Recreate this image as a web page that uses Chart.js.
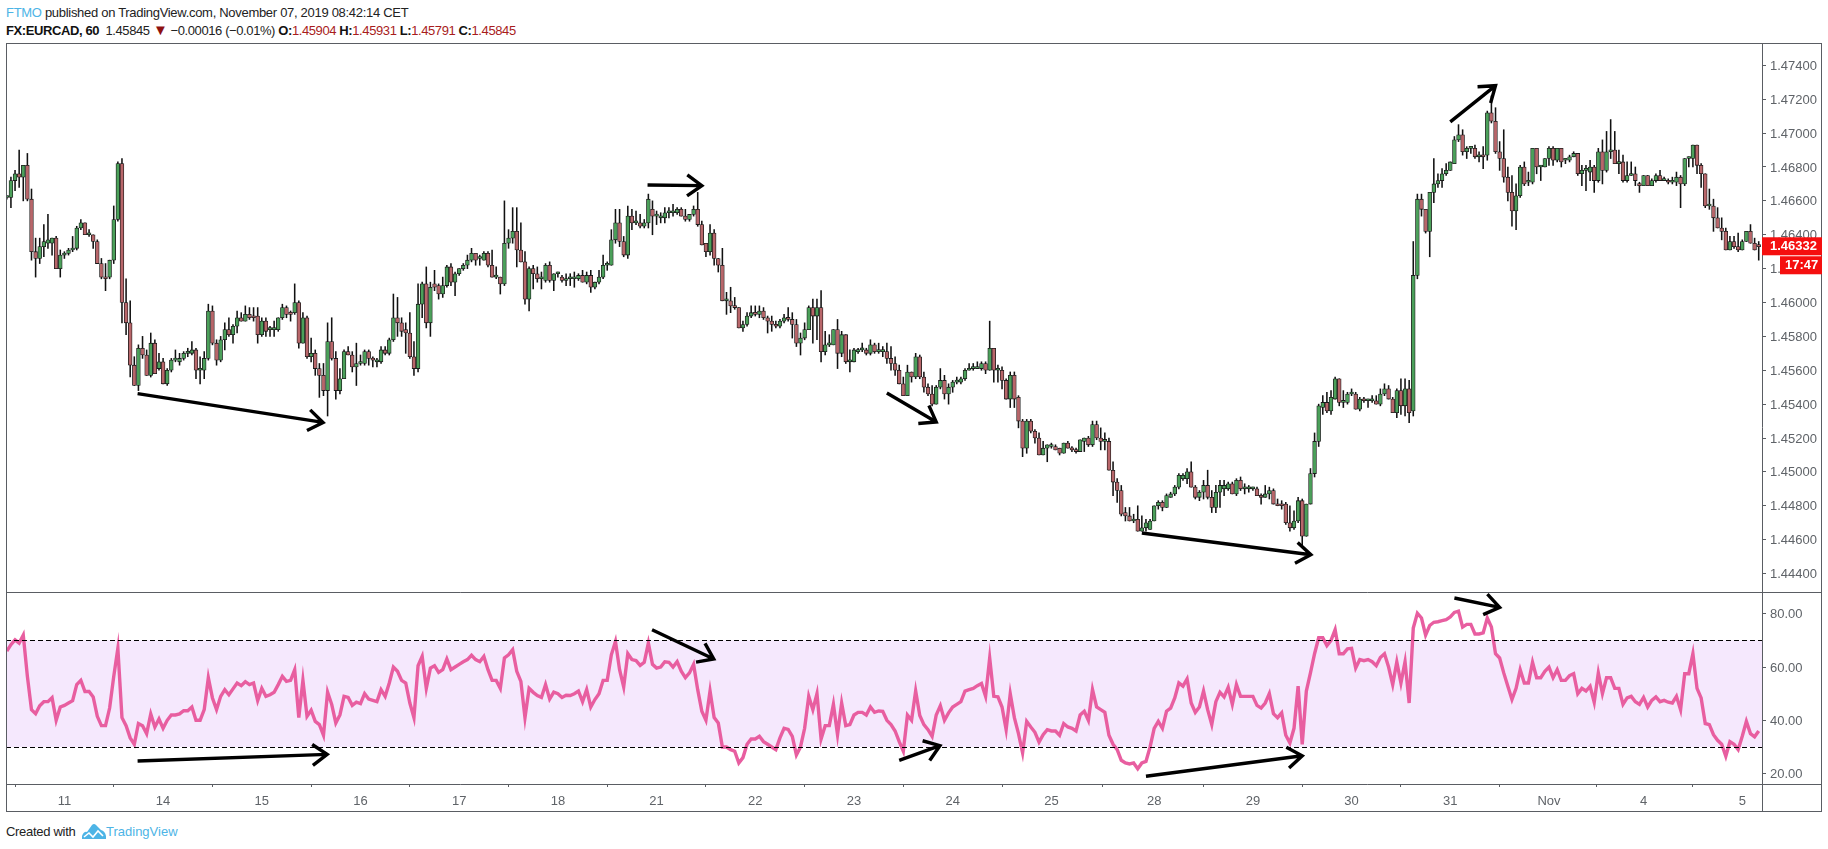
<!DOCTYPE html>
<html><head><meta charset="utf-8"><title>FX:EURCAD, 60</title>
<script src="https://cdn.jsdelivr.net/npm/chart.js@4/dist/chart.umd.js"></script>
<style>
html,body{margin:0;padding:0;background:#fff;width:1828px;height:849px;overflow:hidden}
canvas{position:absolute;left:0;top:0}
.t{position:absolute;white-space:nowrap;font-family:"Liberation Sans",sans-serif;font-size:13px;line-height:16px;color:#222}
.blue{color:#4db4e6}.red{color:#a81c1c}b{font-weight:bold;color:#111}
</style></head><body>
<div class="t" style="left:6px;top:5px;letter-spacing:-0.3px"><span class="blue">FTMO</span> published on TradingView.com, November 07, 2019 08:42:14 CET</div>
<div class="t" style="left:6px;top:22px;letter-spacing:-0.4px"><b>FX:EURCAD, 60</b>&nbsp; 1.45845 <span style="color:#8e1010;font-size:15px">▼</span> −0.00016 (−0.01%) <b>O:</b><span class="red">1.45904</span> <b>H:</b><span class="red">1.45931</span> <b>L:</b><span class="red">1.45791</span> <b>C:</b><span class="red">1.45845</span></div>
<div class="t" style="left:6px;top:824px;letter-spacing:-0.3px">Created with</div>
<svg style="position:absolute;left:82px;top:822px" width="24" height="19" viewBox="0 0 24 19"><path d="M0 17 L0 14 Q2 9 5 10 L10 3 Q12 1 14 3 L19 8 Q23 9 24 14 L24 17 Z" fill="#4db4e6"/><path d="M2 15 L7 11 L11 15 L16 9 L21 14" fill="none" stroke="#fff" stroke-width="1.6"/></svg>
<div class="t blue" style="left:106px;top:824px">TradingView</div>
<canvas id="c" width="1828" height="849"></canvas>
<script>
const opens=[1.4662,1.4662,1.4672,1.4676,1.4674,1.4681,1.4661,1.4630,1.4626,1.4633,
1.4635,1.4635,1.4638,1.4620,1.4628,1.4629,1.4631,1.4632,1.4644,1.4647,
1.4640,1.4640,1.4636,1.4623,1.4615,1.4615,1.4625,1.4649,1.4682,1.4600,
1.4588,1.4563,1.4551,1.4573,1.4569,1.4557,1.4576,1.4561,1.4565,1.4552,
1.4560,1.4566,1.4565,1.4567,1.4570,1.4570,1.4572,1.4560,1.4560,1.4567,
1.4595,1.4576,1.4566,1.4578,1.4584,1.4581,1.4586,1.4591,1.4589,1.4593,
1.4592,1.4592,1.4581,1.4589,1.4584,1.4584,1.4584,1.4591,1.4597,1.4594,
1.4594,1.4600,1.4576,1.4591,1.4568,1.4570,1.4561,1.4557,1.4548,1.4577,
1.4567,1.4548,1.4555,1.4571,1.4569,1.4562,1.4564,1.4564,1.4571,1.4567,
1.4565,1.4565,1.4572,1.4570,1.4578,1.4591,1.4588,1.4584,1.4582,1.4568,
1.4561,1.4599,1.4611,1.4588,1.4611,1.4610,1.4605,1.4610,1.4621,1.4612,
1.4617,1.4620,1.4622,1.4625,1.4629,1.4626,1.4625,1.4629,1.4622,1.4615,
1.4615,1.4611,1.4635,1.4638,1.4642,1.4631,1.4624,1.4602,1.4620,1.4617,
1.4614,1.4613,1.4622,1.4613,1.4617,1.4615,1.4613,1.4614,1.4614,1.4614,
1.4616,1.4612,1.4616,1.4609,1.4612,1.4615,1.4622,1.4622,1.4637,1.4647,
1.4636,1.4628,1.4651,1.4647,1.4647,1.4645,1.4647,1.4655,1.4651,1.4650,
1.4650,1.4653,1.4653,1.4653,1.4655,1.4651,1.4649,1.4652,1.4655,1.4646,
1.4635,1.4630,1.4641,1.4626,1.4622,1.4601,1.4601,1.4598,1.4597,1.4585,
1.4587,1.4592,1.4594,1.4593,1.4595,1.4591,1.4589,1.4587,1.4586,1.4589,
1.4591,1.4590,1.4587,1.4576,1.4579,1.4584,1.4597,1.4592,1.4597,1.4571,
1.4575,1.4575,1.4584,1.4570,1.4581,1.4565,1.4565,1.4571,1.4572,1.4572,
1.4570,1.4575,1.4571,1.4571,1.4571,1.4567,1.4564,1.4560,1.4552,1.4545,
1.4559,1.4556,1.4568,1.4556,1.4550,1.4546,1.4540,1.4550,1.4554,1.4546,
1.4550,1.4553,1.4553,1.4555,1.4560,1.4561,1.4561,1.4561,1.4564,1.4560,
1.4573,1.4560,1.4560,1.4554,1.4543,1.4557,1.4544,1.4530,1.4514,1.4530,
1.4524,1.4520,1.4510,1.4514,1.4515,1.4515,1.4514,1.4511,1.4517,1.4514,
1.4513,1.4512,1.4518,1.4520,1.4516,1.4528,1.4520,1.4518,1.4518,1.4501,
1.4494,1.4489,1.4476,1.4474,1.4471,1.4472,1.4465,1.4467,1.4466,1.4471,
1.4480,1.4482,1.4479,1.4485,1.4487,1.4491,1.4496,1.4496,1.4500,1.4491,
1.4485,1.4488,1.4492,1.4485,1.4479,1.4488,1.4490,1.4490,1.4493,1.4487,
1.4495,1.4490,1.4490,1.4490,1.4490,1.4486,1.4485,1.4487,1.4489,1.4481,
1.4481,1.4481,1.4470,1.4467,1.4471,1.4483,1.4462,1.4481,1.4499,1.4518,
1.4538,1.4541,1.4536,1.4543,1.4555,1.4541,1.4541,1.4546,1.4546,1.4537,
1.4543,1.4542,1.4542,1.4542,1.4540,1.4546,1.4549,1.4543,1.4535,1.4548,
1.4539,1.4549,1.4536,1.4616,1.4661,1.4655,1.4642,1.4665,1.4670,1.4672,
1.4676,1.4678,1.4682,1.4696,1.4699,1.4689,1.4691,1.4691,1.4686,1.4687,
1.4687,1.4712,1.4707,1.4689,1.4685,1.4674,1.4665,1.4654,1.4663,1.4680,
1.4671,1.4671,1.4691,1.4680,1.4680,1.4685,1.4691,1.4684,1.4691,1.4684,
1.4684,1.4686,1.4688,1.4676,1.4678,1.4677,1.4680,1.4672,1.4689,1.4678,
1.4689,1.4690,1.4682,1.4683,1.4672,1.4675,1.4676,1.4670,1.4669,1.4675,
1.4669,1.4672,1.4675,1.4672,1.4672,1.4671,1.4671,1.4674,1.4670,1.4685,
1.4685,1.4693,1.4681,1.4676,1.4657,1.4657,1.4650,1.4644,1.4642,1.4631,
1.4636,1.4633,1.4631,1.4636,1.4642,1.4635,1.4634];
const closes=[1.4662,1.4672,1.4676,1.4674,1.4681,1.4661,1.4630,1.4626,1.4633,1.4636,
1.4637,1.4638,1.4620,1.4628,1.4629,1.4631,1.4632,1.4644,1.4647,1.4640,
1.4640,1.4636,1.4623,1.4615,1.4614,1.4625,1.4649,1.4682,1.4600,1.4588,
1.4563,1.4551,1.4573,1.4569,1.4557,1.4576,1.4558,1.4565,1.4552,1.4560,
1.4566,1.4566,1.4567,1.4570,1.4570,1.4572,1.4560,1.4560,1.4567,1.4595,
1.4576,1.4566,1.4578,1.4584,1.4581,1.4586,1.4591,1.4589,1.4593,1.4591,
1.4591,1.4581,1.4589,1.4583,1.4584,1.4584,1.4591,1.4597,1.4593,1.4593,
1.4600,1.4576,1.4591,1.4568,1.4570,1.4561,1.4557,1.4548,1.4577,1.4567,
1.4548,1.4555,1.4571,1.4569,1.4562,1.4564,1.4564,1.4571,1.4567,1.4566,
1.4566,1.4572,1.4570,1.4578,1.4591,1.4588,1.4583,1.4582,1.4568,1.4561,
1.4599,1.4611,1.4588,1.4609,1.4609,1.4605,1.4610,1.4621,1.4612,1.4617,
1.4620,1.4622,1.4625,1.4629,1.4625,1.4626,1.4629,1.4622,1.4615,1.4615,
1.4611,1.4635,1.4638,1.4642,1.4631,1.4624,1.4602,1.4620,1.4617,1.4614,
1.4614,1.4622,1.4613,1.4617,1.4618,1.4613,1.4614,1.4615,1.4614,1.4616,
1.4612,1.4616,1.4609,1.4612,1.4615,1.4622,1.4622,1.4637,1.4647,1.4636,
1.4628,1.4651,1.4647,1.4647,1.4645,1.4647,1.4661,1.4651,1.4651,1.4650,
1.4653,1.4654,1.4654,1.4655,1.4651,1.4649,1.4652,1.4655,1.4646,1.4634,
1.4630,1.4641,1.4626,1.4622,1.4601,1.4601,1.4598,1.4597,1.4585,1.4587,
1.4592,1.4594,1.4593,1.4595,1.4591,1.4589,1.4587,1.4586,1.4589,1.4591,
1.4590,1.4587,1.4576,1.4579,1.4584,1.4597,1.4592,1.4597,1.4571,1.4575,
1.4575,1.4584,1.4570,1.4581,1.4565,1.4565,1.4572,1.4572,1.4572,1.4570,
1.4575,1.4571,1.4571,1.4571,1.4567,1.4564,1.4560,1.4552,1.4545,1.4559,
1.4556,1.4568,1.4556,1.4550,1.4546,1.4540,1.4550,1.4554,1.4546,1.4550,
1.4553,1.4553,1.4555,1.4560,1.4561,1.4561,1.4562,1.4564,1.4560,1.4573,
1.4560,1.4560,1.4554,1.4543,1.4557,1.4543,1.4530,1.4514,1.4530,1.4524,
1.4520,1.4510,1.4514,1.4516,1.4515,1.4513,1.4511,1.4517,1.4514,1.4513,
1.4512,1.4519,1.4520,1.4516,1.4528,1.4520,1.4518,1.4518,1.4501,1.4494,
1.4489,1.4475,1.4474,1.4471,1.4471,1.4465,1.4467,1.4470,1.4471,1.4480,
1.4482,1.4479,1.4486,1.4487,1.4491,1.4498,1.4498,1.4500,1.4491,1.4485,
1.4488,1.4492,1.4485,1.4479,1.4488,1.4492,1.4492,1.4493,1.4487,1.4495,
1.4490,1.4490,1.4490,1.4490,1.4486,1.4485,1.4487,1.4489,1.4481,1.4480,
1.4480,1.4470,1.4467,1.4471,1.4483,1.4462,1.4481,1.4499,1.4518,1.4539,
1.4541,1.4536,1.4544,1.4555,1.4541,1.4541,1.4546,1.4546,1.4537,1.4543,
1.4542,1.4542,1.4542,1.4540,1.4546,1.4549,1.4543,1.4535,1.4548,1.4539,
1.4549,1.4535,1.4616,1.4661,1.4655,1.4642,1.4665,1.4670,1.4672,1.4676,
1.4678,1.4683,1.4696,1.4699,1.4689,1.4691,1.4691,1.4686,1.4686,1.4686,
1.4712,1.4707,1.4689,1.4685,1.4674,1.4665,1.4654,1.4663,1.4680,1.4670,
1.4671,1.4691,1.4680,1.4680,1.4685,1.4691,1.4684,1.4691,1.4683,1.4684,
1.4686,1.4688,1.4676,1.4678,1.4678,1.4680,1.4672,1.4689,1.4678,1.4689,
1.4690,1.4682,1.4683,1.4672,1.4675,1.4676,1.4672,1.4669,1.4675,1.4669,
1.4672,1.4675,1.4672,1.4672,1.4671,1.4671,1.4674,1.4670,1.4685,1.4685,
1.4693,1.4681,1.4676,1.4657,1.4657,1.4650,1.4644,1.4642,1.4631,1.4636,
1.4633,1.4631,1.4636,1.4642,1.4635,1.4631,1.4633];
const highs=[1.4663,1.4674,1.4678,1.4690,1.4681,1.4688,1.4667,1.4638,1.4638,1.4646,
1.4652,1.4638,1.4639,1.4631,1.4630,1.4632,1.4639,1.4645,1.4649,1.4647,
1.4643,1.4640,1.4637,1.4626,1.4623,1.4625,1.4657,1.4683,1.4685,1.4614,
1.4601,1.4568,1.4575,1.4580,1.4572,1.4582,1.4578,1.4570,1.4567,1.4561,
1.4567,1.4572,1.4570,1.4571,1.4573,1.4577,1.4573,1.4568,1.4571,1.4599,
1.4598,1.4578,1.4580,1.4588,1.4591,1.4587,1.4595,1.4594,1.4598,1.4597,
1.4597,1.4597,1.4591,1.4591,1.4586,1.4589,1.4591,1.4599,1.4598,1.4595,
1.4611,1.4601,1.4594,1.4592,1.4579,1.4572,1.4564,1.4564,1.4588,1.4591,
1.4571,1.4561,1.4572,1.4574,1.4571,1.4576,1.4569,1.4572,1.4572,1.4568,
1.4567,1.4574,1.4574,1.4579,1.4605,1.4603,1.4591,1.4588,1.4594,1.4577,
1.4611,1.4612,1.4621,1.4612,1.4619,1.4611,1.4615,1.4622,1.4623,1.4618,
1.4620,1.4623,1.4628,1.4632,1.4629,1.4628,1.4630,1.4630,1.4631,1.4621,
1.4615,1.4660,1.4643,1.4656,1.4656,1.4647,1.4630,1.4621,1.4622,1.4621,
1.4618,1.4623,1.4624,1.4617,1.4618,1.4616,1.4617,1.4617,1.4618,1.4617,
1.4619,1.4618,1.4619,1.4612,1.4619,1.4628,1.4624,1.4643,1.4655,1.4655,
1.4639,1.4657,1.4655,1.4654,1.4652,1.4649,1.4664,1.4660,1.4654,1.4653,
1.4656,1.4656,1.4658,1.4656,1.4656,1.4655,1.4652,1.4657,1.4665,1.4648,
1.4635,1.4646,1.4643,1.4626,1.4632,1.4606,1.4609,1.4603,1.4597,1.4589,
1.4594,1.4598,1.4598,1.4598,1.4597,1.4592,1.4592,1.4589,1.4590,1.4593,
1.4597,1.4594,1.4590,1.4582,1.4588,1.4598,1.4602,1.4602,1.4607,1.4583,
1.4581,1.4584,1.4590,1.4583,1.4581,1.4572,1.4573,1.4573,1.4576,1.4573,
1.4578,1.4576,1.4576,1.4574,1.4576,1.4574,1.4568,1.4563,1.4556,1.4563,
1.4559,1.4570,1.4569,1.4559,1.4552,1.4551,1.4551,1.4561,1.4557,1.4552,
1.4554,1.4556,1.4556,1.4561,1.4564,1.4564,1.4565,1.4565,1.4565,1.4589,
1.4573,1.4563,1.4562,1.4555,1.4559,1.4559,1.4545,1.4531,1.4531,1.4531,
1.4525,1.4523,1.4518,1.4516,1.4517,1.4516,1.4514,1.4517,1.4518,1.4515,
1.4514,1.4519,1.4520,1.4521,1.4530,1.4530,1.4526,1.4523,1.4520,1.4506,
1.4496,1.4492,1.4479,1.4479,1.4475,1.4480,1.4474,1.4472,1.4472,1.4480,
1.4483,1.4483,1.4487,1.4488,1.4492,1.4499,1.4499,1.4502,1.4506,1.4492,
1.4489,1.4495,1.4501,1.4489,1.4492,1.4495,1.4495,1.4494,1.4494,1.4496,
1.4497,1.4493,1.4492,1.4491,1.4491,1.4487,1.4492,1.4491,1.4490,1.4484,
1.4483,1.4482,1.4480,1.4477,1.4485,1.4484,1.4481,1.4502,1.4523,1.4540,
1.4545,1.4547,1.4548,1.4556,1.4555,1.4548,1.4547,1.4549,1.4547,1.4544,
1.4544,1.4543,1.4545,1.4545,1.4549,1.4552,1.4551,1.4544,1.4549,1.4555,
1.4555,1.4554,1.4636,1.4664,1.4664,1.4655,1.4665,1.4685,1.4676,1.4679,
1.4682,1.4683,1.4698,1.4705,1.4702,1.4692,1.4692,1.4693,1.4689,1.4692,
1.4713,1.4722,1.4715,1.4695,1.4702,1.4680,1.4675,1.4670,1.4681,1.4683,
1.4677,1.4691,1.4691,1.4681,1.4685,1.4692,1.4692,1.4691,1.4691,1.4685,
1.4687,1.4689,1.4688,1.4681,1.4681,1.4684,1.4681,1.4691,1.4696,1.4701,
1.4708,1.4701,1.4690,1.4687,1.4683,1.4683,1.4680,1.4671,1.4675,1.4675,
1.4673,1.4676,1.4678,1.4674,1.4673,1.4674,1.4677,1.4675,1.4685,1.4686,
1.4693,1.4693,1.4682,1.4676,1.4667,1.4661,1.4656,1.4650,1.4644,1.4639,
1.4639,1.4641,1.4637,1.4642,1.4646,1.4638,1.4636];
const lows=[1.4661,1.4656,1.4666,1.4668,1.4660,1.4660,1.4625,1.4615,1.4623,1.4627,
1.4632,1.4628,1.4620,1.4615,1.4626,1.4628,1.4630,1.4631,1.4643,1.4640,
1.4639,1.4632,1.4623,1.4614,1.4607,1.4614,1.4623,1.4648,1.4588,1.4581,
1.4556,1.4551,1.4548,1.4567,1.4557,1.4556,1.4558,1.4560,1.4552,1.4551,
1.4559,1.4565,1.4563,1.4566,1.4568,1.4569,1.4555,1.4552,1.4555,1.4566,
1.4575,1.4563,1.4565,1.4572,1.4580,1.4576,1.4582,1.4589,1.4589,1.4590,
1.4589,1.4576,1.4580,1.4580,1.4580,1.4580,1.4583,1.4590,1.4591,1.4589,
1.4593,1.4573,1.4576,1.4567,1.4565,1.4557,1.4544,1.4545,1.4533,1.4566,
1.4543,1.4546,1.4555,1.4569,1.4559,1.4551,1.4563,1.4563,1.4563,1.4562,
1.4562,1.4564,1.4569,1.4569,1.4577,1.4580,1.4580,1.4570,1.4567,1.4557,
1.4559,1.4591,1.4585,1.4580,1.4607,1.4602,1.4603,1.4609,1.4610,1.4604,
1.4616,1.4619,1.4620,1.4624,1.4622,1.4622,1.4625,1.4621,1.4615,1.4614,
1.4605,1.4610,1.4632,1.4635,1.4621,1.4624,1.4599,1.4595,1.4608,1.4612,
1.4608,1.4612,1.4612,1.4607,1.4615,1.4612,1.4610,1.4610,1.4609,1.4613,
1.4612,1.4611,1.4606,1.4608,1.4611,1.4614,1.4619,1.4622,1.4635,1.4633,
1.4627,1.4626,1.4643,1.4646,1.4644,1.4644,1.4644,1.4640,1.4646,1.4647,
1.4647,1.4650,1.4651,1.4652,1.4651,1.4648,1.4648,1.4651,1.4645,1.4634,
1.4627,1.4628,1.4622,1.4618,1.4601,1.4593,1.4594,1.4596,1.4585,1.4583,
1.4586,1.4591,1.4592,1.4591,1.4590,1.4582,1.4583,1.4585,1.4585,1.4588,
1.4589,1.4579,1.4574,1.4569,1.4578,1.4584,1.4576,1.4578,1.4565,1.4569,
1.4574,1.4575,1.4561,1.4568,1.4564,1.4559,1.4565,1.4570,1.4571,1.4569,
1.4569,1.4570,1.4570,1.4568,1.4564,1.4560,1.4557,1.4552,1.4545,1.4545,
1.4553,1.4555,1.4555,1.4547,1.4545,1.4539,1.4540,1.4549,1.4543,1.4540,
1.4547,1.4552,1.4552,1.4554,1.4560,1.4560,1.4561,1.4560,1.4558,1.4560,
1.4553,1.4553,1.4549,1.4543,1.4538,1.4538,1.4526,1.4509,1.4511,1.4523,
1.4517,1.4510,1.4510,1.4506,1.4514,1.4513,1.4510,1.4511,1.4514,1.4512,
1.4511,1.4512,1.4512,1.4515,1.4515,1.4519,1.4513,1.4513,1.4501,1.4486,
1.4482,1.4474,1.4471,1.4471,1.4470,1.4465,1.4465,1.4465,1.4466,1.4471,
1.4478,1.4477,1.4479,1.4485,1.4486,1.4490,1.4495,1.4493,1.4491,1.4484,
1.4483,1.4484,1.4484,1.4476,1.4476,1.4479,1.4486,1.4489,1.4487,1.4486,
1.4489,1.4487,1.4488,1.4489,1.4486,1.4481,1.4485,1.4484,1.4481,1.4480,
1.4478,1.4469,1.4465,1.4466,1.4470,1.4456,1.4462,1.4481,1.4497,1.4515,
1.4534,1.4535,1.4534,1.4543,1.4539,1.4538,1.4540,1.4545,1.4537,1.4536,
1.4541,1.4538,1.4541,1.4540,1.4539,1.4545,1.4543,1.4535,1.4532,1.4534,
1.4533,1.4529,1.4533,1.4614,1.4651,1.4641,1.4627,1.4659,1.4668,1.4668,
1.4675,1.4678,1.4682,1.4695,1.4687,1.4685,1.4688,1.4685,1.4683,1.4679,
1.4684,1.4706,1.4688,1.4678,1.4671,1.4660,1.4645,1.4643,1.4662,1.4669,
1.4669,1.4670,1.4676,1.4672,1.4680,1.4681,1.4681,1.4683,1.4680,1.4682,
1.4683,1.4686,1.4675,1.4669,1.4666,1.4672,1.4665,1.4671,1.4670,1.4677,
1.4685,1.4682,1.4676,1.4671,1.4671,1.4675,1.4669,1.4665,1.4669,1.4669,
1.4669,1.4671,1.4672,1.4672,1.4670,1.4670,1.4669,1.4656,1.4669,1.4680,
1.4680,1.4676,1.4668,1.4656,1.4655,1.4642,1.4644,1.4637,1.4631,1.4631,
1.4632,1.4630,1.4631,1.4636,1.4635,1.4631,1.4625];
const rsiValues=[66,68.4,70.2,69,72,56.5,44,42.5,45.5,47,
47,48.5,40,45,45.6,46.5,47.4,53.4,55,50.8,
50.8,48.8,41.5,38,38,44.6,56.5,67,41,38,
33.4,31,38.8,38,35,42.4,37.5,40.5,37,40,
42,42,42.4,43.6,43.6,45,40,40,44,56,
48.4,44,49,51.5,49.6,51.8,54,53,54.5,53.4,
54,47.4,52,49,49.6,50.5,53.4,56.5,54.6,55,
59,41,55,41.5,43.8,39.6,38.4,34.4,50.6,46,
39,42,49,48.6,45.6,46.8,46.3,50,48,47.5,
47,51.5,49,54,60,58.4,55,54,46.5,41,
60.5,64,52,59.6,60.5,58,59,63,59,60,
61,62,62.8,64.4,62.8,62,64,59,55,55,
52,63.4,64.6,66.5,58.4,54.6,41,52,50.5,49.3,
48.6,53.4,48,50.6,50,48.6,49.4,49.3,50,51,
47,51.5,45,47.8,50,55,55,64.6,69.6,59,
52.5,65,62.8,62.4,60.6,61.8,69,61,59.6,60,
62,61.8,60,62,58.4,56,57.8,61,51.5,43.4,
40,51,41,39,30,30,29,28.4,24,26,
31,33,33,34,32,31,30,29,33.4,37,
36.6,34,27,30,37,49,44,50,33,38,
38,46,34.6,46.5,38,38.4,42,43,43,42,
45,43,43.5,43.4,40,38.4,36,32,28.4,42,
40,51,41.8,38.4,36.5,34,42,45.5,40,42.8,
45,46,47,51,51.5,52,53,53.8,49,63.4,
49,48.8,45,36.5,50,41,35,27.8,39.6,37.5,
35.5,31.8,34.6,36.5,36,36,34.4,38.8,37.5,37,
36,42,43.4,40,51.5,45,44,43,34.4,31,
29,25,24,23.6,24,21.8,24,24.6,30,37,
39.6,37,43.4,44.6,48.4,54,52.8,55.5,46.5,43,
45,51,44,38.4,47,50.5,48.8,52.4,46,53.4,
49,49,49,49,45.6,44.6,46.5,50,42.5,41,
42.8,34.4,31.5,37,52.8,31,51,57.8,65,71,
71,68,70,74,65,65,66.8,67,59.6,62.8,
62.4,62.8,62,60.5,63.6,65,60,53.4,61.9,54,
62,46.5,74.6,80.2,78.4,72,75.6,76.8,77,77.4,
77.8,78.8,80.5,81,75,76,76,72.4,72.4,72.8,
78.4,75,65,63.4,57.8,52.8,47.8,52,59,54,
54,61.8,56,56,58.4,60,56,59,55,55,
56.8,57.5,50,52,51,52.8,46.8,57.8,50,56,
56,52,52,46,48.4,49,47,46,48.6,45,
47.5,48.8,47,47.5,46.8,46.5,49,44,57.5,57.5,
65,52,48.4,38.8,38.4,34.6,32.5,31,26.5,32,
31,29,34,39.6,35,33.8,36];
const dayTickBars=[14,38,62,86,110,134,158,182,206,230,254,279,303,327,351,375,398,422];
const dayTickLabels=["11","14","15","16","17","18","21","22","23","24","25","28","29","30","31","Nov","4","5"];
const priceTicks=[1.444,1.446,1.448,1.45,1.452,1.454,1.456,1.458,1.46,1.462,1.464,1.466,1.468,1.47,1.472,1.474];
const rsiTicks=[20,40,60,80];
const rsiBand=[30,70];
const lastPrice=1.46332, countdown="17:47";
// arrows: [bar index, value, bar index, value]
const priceArrows=[[31.8,1.45462,76.9,1.45292],[155.8,1.46694,169,1.4669],[214,1.45466,226,1.45295],[276,1.44639,317.1,1.44511],[351,1.47066,362,1.4728]];
const rsiArrows=[[31.8,24.75,77.9,27.2],[156.9,74,171.9,63],[217,25,226.9,30.5],[277,19,315,26.7],[352,85.9,363,82.4]];

const GRAY='#5a5d63', TXT='#5f6368', FONT='"Liberation Sans",sans-serif';
function arrow(ctx,x1,y1,x2,y2){
  const a=Math.atan2(y2-y1,x2-x1),L=18,s=0.62;
  ctx.beginPath();ctx.moveTo(x1,y1);ctx.lineTo(x2,y2);
  ctx.moveTo(x2-L*Math.cos(a-s),y2-L*Math.sin(a-s));ctx.lineTo(x2,y2);
  ctx.lineTo(x2-L*Math.cos(a+s),y2-L*Math.sin(a+s));ctx.stroke();
}
const panes={id:'panes',
  beforeDatasetsDraw(c){
    const {ctx,chartArea:a}=c,r=c.scales.rsi;
    const y1=r.getPixelForValue(rsiBand[1]),y0=r.getPixelForValue(rsiBand[0]);
    ctx.save();ctx.fillStyle='#f5e8fd';ctx.fillRect(a.left,y1,a.right-a.left,y0-y1);
    ctx.restore();
  },
  afterDatasetsDraw(c){
    const {ctx,chartArea:a,scales:s}=c;
    ctx.save();
    ctx.strokeStyle='#000';ctx.lineWidth=1;ctx.setLineDash([5,3]);
    for(const v of rsiBand){const y=Math.round(s.rsi.getPixelForValue(v))+.5;
      ctx.beginPath();ctx.moveTo(a.left,y);ctx.lineTo(a.right,y);ctx.stroke();}
    ctx.setLineDash([]);
    ctx.strokeStyle='#000';ctx.lineWidth=3.4;ctx.lineCap='butt';ctx.lineJoin='miter';
    for(const p of priceArrows)arrow(ctx,s.x.getPixelForValue(p[0]),s.y.getPixelForValue(p[1]),s.x.getPixelForValue(p[2]),s.y.getPixelForValue(p[3]));
    for(const p of rsiArrows)arrow(ctx,s.x.getPixelForValue(p[0]),s.rsi.getPixelForValue(p[1]),s.x.getPixelForValue(p[2]),s.rsi.getPixelForValue(p[3]));
    ctx.restore();
  },
  afterDraw(c){
    const {ctx,chartArea:a,scales:s}=c,right=c.width-6,bottom=s.x.bottom;
    ctx.save();
    ctx.strokeStyle=GRAY;ctx.lineWidth=1;
    const L=Math.round(a.left)+.5,T=Math.round(a.top)+.5,R=Math.round(right)-.5,B=Math.round(bottom)-.5;
    ctx.strokeRect(L,T,R-L,B-T);
    const X=Math.round(a.right)+.5,S=Math.round(s.y.bottom)+.5,XB=Math.round(a.bottom)+.5;
    ctx.beginPath();ctx.moveTo(X,T);ctx.lineTo(X,B);ctx.moveTo(L,S);ctx.lineTo(R,S);ctx.moveTo(L,XB);ctx.lineTo(R,XB);ctx.stroke();
    const y=s.y.getPixelForValue(lastPrice);
    ctx.fillStyle='#f50f0f';
    ctx.fillRect(a.right,y-9,right-a.right,18);
    ctx.fillRect(a.right+18,y+10,right-a.right-18,18);
    ctx.fillStyle='#fff';ctx.font='bold 13px '+FONT;ctx.textBaseline='middle';ctx.textAlign='left';
    ctx.fillText(lastPrice.toFixed(5),a.right+8,y+0.5);
    ctx.fillText(countdown,a.right+23,y+19.5);
    ctx.restore();
  }
};
const n=opens.length;
const idx=[...Array(n).keys()];
const font={family:FONT,size:13};
new Chart(document.getElementById('c'),{
  type:'bar',
  data:{datasets:[
    {label:'RSI',type:'line',yAxisID:'rsi',order:1,data:idx.map(i=>({x:i,y:rsiValues[i]})),borderColor:'#e85ea0',borderWidth:3.4,pointRadius:0,tension:0,borderJoinStyle:'miter',fill:false},
    {label:'Body',yAxisID:'y',order:2,grouped:false,barThickness:3.8,minBarLength:2,borderSkipped:false,borderWidth:0.8,borderColor:'#1a1a1a',
     backgroundColor:idx.map(i=>closes[i]>=opens[i]?'#4ba05a':'#b8666a'),
     data:idx.map(i=>({x:i,y:[Math.min(opens[i],closes[i]),Math.max(opens[i],closes[i])]}))},
    {label:'Wick',yAxisID:'y',order:3,grouped:false,barThickness:0.9,backgroundColor:'#111',borderWidth:0,
     data:idx.map(i=>({x:i,y:[lows[i],highs[i]]}))}
  ]},
  options:{
    responsive:false,animation:false,events:[],devicePixelRatio:1,
    layout:{padding:{left:6,top:43,right:6,bottom:37}},
    plugins:{legend:{display:false},tooltip:{enabled:false},title:{display:false}},
    scales:{
      x:{type:'linear',position:'bottom',offset:false,min:-0.2,max:426.8,
        grid:{drawOnChartArea:false,drawTicks:true,tickLength:3,color:GRAY},border:{display:false},
        afterBuildTicks(s){s.ticks=dayTickBars.map(v=>({value:v}));},
        afterFit(s){s.height=28;},
        ticks:{autoSkip:false,maxRotation:0,minRotation:0,padding:7,color:TXT,font,callback:v=>dayTickLabels[dayTickBars.indexOf(v)]}},
      y:{type:'linear',position:'right',stack:'panes',stackWeight:549,min:1.44291,max:1.47532,
        grid:{drawOnChartArea:false,drawTicks:true,tickLength:4,color:GRAY},border:{display:false},
        afterBuildTicks(s){s.ticks=priceTicks.map(v=>({value:v}));},
        afterFit(s){s.width=60;},
        ticks:{padding:4,labelOffset:1,color:TXT,font,callback:v=>v.toFixed(5)}},
      rsi:{type:'linear',position:'right',stack:'panes',stackWeight:192,min:16.1,max:88.16,
        grid:{drawOnChartArea:false,drawTicks:true,tickLength:4,color:GRAY},border:{display:false},
        afterBuildTicks(s){s.ticks=rsiTicks.map(v=>({value:v}));},
        afterFit(s){s.width=60;},
        ticks:{padding:4,labelOffset:1,color:TXT,font,callback:v=>v.toFixed(2)}}
    }
  },
  plugins:[panes]
});
</script>
</body></html>
